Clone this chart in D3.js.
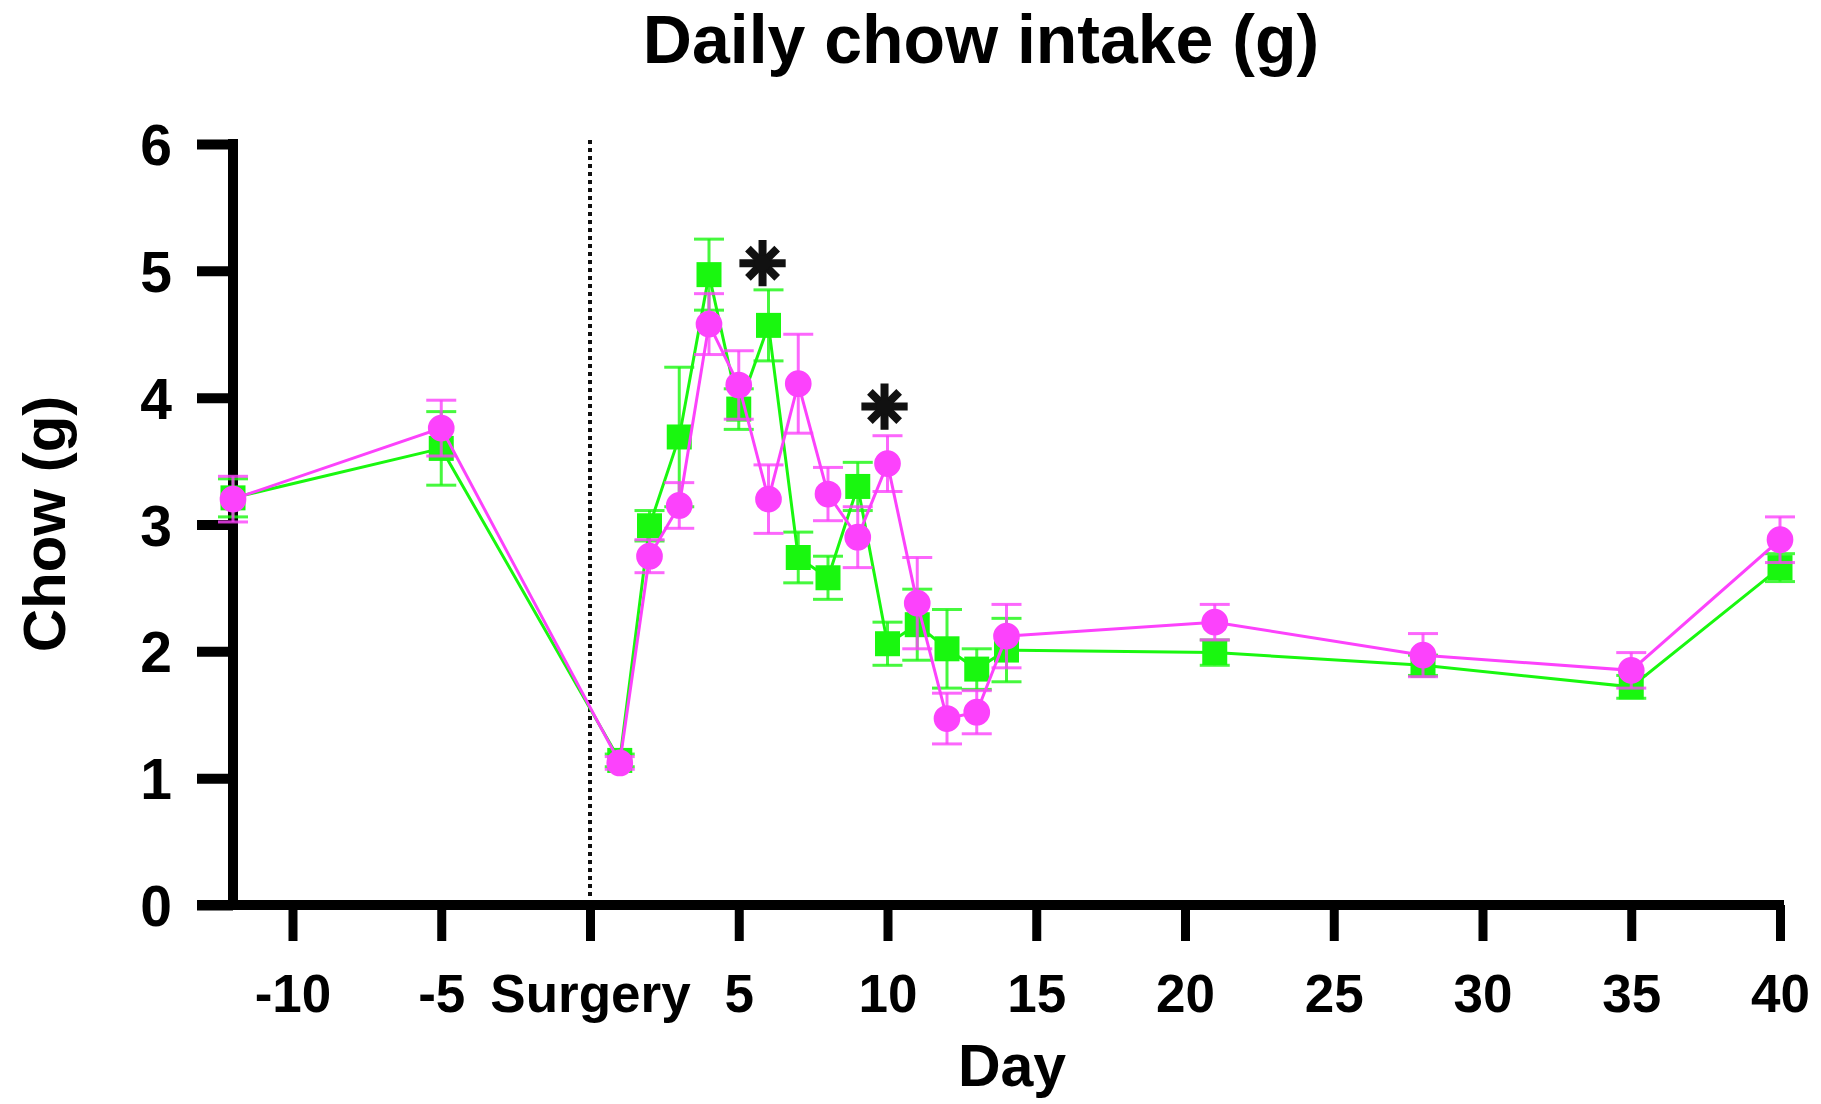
<!DOCTYPE html>
<html>
<head>
<meta charset="utf-8">
<script src="https://cdn.jsdelivr.net/npm/d3@7"></script>
<style>
  body { margin: 0; background: white; }
  text { font-family: "Liberation Sans", Arial, sans-serif; font-weight: bold; fill: black; }
</style>
</head>
<body>
<div id="vis"></div>
<script>
const layout = {
    width: 1821,
    height: 1104,
    left: 233,
    right: 1780,
    top: 144,
    bottom: 905,
    tickLen: 36
};

// data
const days = [-12, -5, 1, 2, 3, 4, 5, 6, 7, 8, 9, 10, 11, 12, 13, 14, 21, 28, 35, 40];
const greenMean = [3.21, 3.60, 1.14, 2.99, 3.69, 4.97, 3.91, 4.57, 2.74, 2.58, 3.30, 2.06, 2.21, 2.02, 1.86, 2.01, 1.99, 1.89, 1.72, 2.66];
const greenSem = [0.15, 0.29, 0.05, 0.12, 0.55, 0.28, 0.16, 0.28, 0.20, 0.17, 0.19, 0.17, 0.28, 0.31, 0.16, 0.25, 0.10, 0.08, 0.09, 0.11];
const pinkMean = [3.20, 3.76, 1.12, 2.75, 3.15, 4.58, 4.10, 3.20, 4.11, 3.24, 2.90, 3.48, 2.38, 1.47, 1.52, 2.12, 2.23, 1.97, 1.85, 2.88];
const pinkSem = [0.18, 0.22, 0.05, 0.13, 0.18, 0.24, 0.27, 0.27, 0.39, 0.21, 0.24, 0.22, 0.36, 0.20, 0.17, 0.25, 0.14, 0.17, 0.14, 0.18];
const xTicks = [-10, -5, 0, 5, 10, 15, 20, 25, 30, 35, 40];
const yTicks = [0, 1, 2, 3, 4, 5, 6];
const starDays = [5.8, 9.9];
const starValues = [5.06, 3.93];

const green = "#19f70f";
const pink = "#fc42fc";

let svg = d3.select("#vis").append("svg")
    .attr("width", layout.width)
    .attr("height", layout.height)
    .attr("viewBox", [0, 0, layout.width, layout.height].join(" "));

let xScale = d3.scaleLinear().domain([-12, 40]).range([layout.left, layout.right]);
let yScale = d3.scaleLinear().domain([0, 6]).range([layout.bottom, layout.top]);

// title
svg.append("text")
    .attr("x", 981).attr("y", 63)
    .attr("text-anchor", "middle")
    .attr("font-size", 68)
    .text("Daily chow intake (g)");

// surgery marker (dotted)
svg.append("line")
    .attr("x1", xScale(0)).attr("x2", xScale(0))
    .attr("y1", yScale(6) - 4).attr("y2", yScale(0))
    .attr("stroke", "#111")
    .attr("stroke-width", 4)
    .attr("stroke-dasharray", "4 4");

// x axis
let xAxis = svg.append("g")
    .attr("transform", `translate(0,${layout.bottom})`)
    .call(d3.axisBottom(xScale).tickValues(xTicks).tickSize(layout.tickLen).tickSizeOuter(0)
        .tickFormat(d => d === 0 ? "Surgery" : d));
xAxis.select(".domain").remove();
xAxis.selectAll("line").attr("stroke", "black").attr("stroke-width", 9);
xAxis.selectAll("text")
    .attr("font-size", 53)
    .attr("font-family", "Liberation Sans, Arial, sans-serif")
    .attr("font-weight", "bold")
    .attr("fill", "black")
    .attr("dy", null)
    .attr("y", 107);
svg.append("line")
    .attr("x1", layout.left - layout.tickLen).attr("x2", xScale(40) + 4)
    .attr("y1", layout.bottom).attr("y2", layout.bottom)
    .attr("stroke", "black").attr("stroke-width", 10);

// y axis
let yAxis = svg.append("g")
    .attr("transform", `translate(${layout.left},0)`)
    .call(d3.axisLeft(yScale).tickValues(yTicks).tickSize(layout.tickLen).tickSizeOuter(0)
        .tickPadding(25).tickFormat(d3.format("d")));
yAxis.select(".domain").remove();
yAxis.selectAll("line").attr("stroke", "black").attr("stroke-width", 10);
yAxis.selectAll("text")
    .attr("font-size", 57)
    .attr("font-family", "Liberation Sans, Arial, sans-serif")
    .attr("font-weight", "bold")
    .attr("fill", "black")
    .attr("dy", "0.36em");
svg.append("line")
    .attr("x1", layout.left).attr("x2", layout.left)
    .attr("y1", yScale(0) + 5).attr("y2", yScale(6) - 5)
    .attr("stroke", "black").attr("stroke-width", 10);

// axis titles
svg.append("text")
    .attr("transform", `translate(65,524) rotate(-90)`)
    .attr("text-anchor", "middle")
    .attr("font-size", 60)
    .text("Chow (g)");
svg.append("text")
    .attr("x", 1012).attr("y", 1086)
    .attr("text-anchor", "middle")
    .attr("font-size", 59)
    .text("Day");

function drawSeries(means, sems, color, shape) {
    let pts = days.map((d, i) => ({day: d, mean: means[i], sem: sems[i]}));
    let g = svg.append("g");
    // error bars
    g.selectAll(".err").data(pts).join("line")
        .attr("class", "err")
        .attr("x1", d => xScale(d.day)).attr("x2", d => xScale(d.day))
        .attr("y1", d => yScale(d.mean - d.sem)).attr("y2", d => yScale(d.mean + d.sem))
        .attr("stroke", color).attr("stroke-width", 3).attr("opacity", 0.8);
    g.selectAll(".cap").data(pts.flatMap(d => [
            {day: d.day, v: d.mean + d.sem}, {day: d.day, v: d.mean - d.sem}]))
        .join("line")
        .attr("class", "cap")
        .attr("x1", d => xScale(d.day) - 15).attr("x2", d => xScale(d.day) + 15)
        .attr("y1", d => yScale(d.v)).attr("y2", d => yScale(d.v))
        .attr("stroke", color).attr("stroke-width", 3).attr("opacity", 0.8);
    // connecting line
    g.append("path")
        .datum(pts)
        .attr("fill", "none")
        .attr("stroke", color)
        .attr("stroke-width", 3)
        .attr("d", d3.line().x(d => xScale(d.day)).y(d => yScale(d.mean)));
    // markers
    g.selectAll(".mark").data(pts).join("path")
        .attr("class", "mark")
        .attr("transform", d => `translate(${xScale(d.day)},${yScale(d.mean)})`)
        .attr("d", d3.symbol().type(shape).size(shape === d3.symbolSquare ? 625 : 560))
        .attr("fill", color);
}

drawSeries(greenMean, greenSem, green, d3.symbolSquare);
drawSeries(pinkMean, pinkSem, pink, d3.symbolCircle);

// significance stars
let stars = starDays.map((d, i) => ({day: d, v: starValues[i]}));
[d3.symbolPlus, d3.symbolTimes].forEach(t => {
    svg.append("g").selectAll("path").data(stars).join("path")
        .attr("transform", d => `translate(${xScale(d.day)},${yScale(d.v)})`)
        .attr("d", d3.symbol().type(t).size(t === d3.symbolPlus ? 700 : 560))
        .attr("fill", "none")
        .attr("stroke", "#111")
        .attr("stroke-width", 8);
});
svg.append("g").selectAll("circle").data(stars).join("circle")
    .attr("cx", d => xScale(d.day)).attr("cy", d => yScale(d.v))
    .attr("r", 8).attr("fill", "#111");
</script>
</body>
</html>
